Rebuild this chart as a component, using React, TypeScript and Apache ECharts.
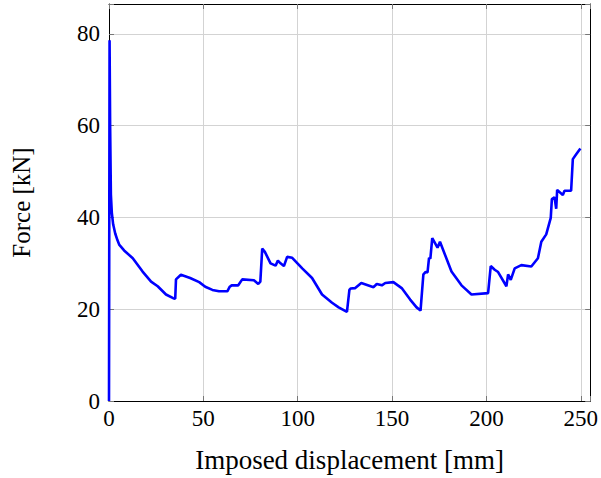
import React, { useEffect, useRef } from "react";
import * as echarts from "echarts";

const displacement: number[] = [
  0, 0.3, 0.6, 1.0, 1.5, 2.2, 3.3, 4.5, 5.5, 8, 12.6, 17.8, 22.3, 25.8, 30.2, 34.0, 35.1, 35.5, 38.1, 43,
  47.8, 51, 54.8, 58.3, 62.7, 64, 65, 68.5, 70.6, 76.8, 79.1, 80.2, 81.2, 82.6, 85.6, 88.3, 89.5, 90.9,
  92.7, 94.4, 97.1, 102.4, 107.6, 112.9, 118.2, 121.7, 126.1, 127.4, 128.0, 130.5, 133.7, 140.2, 141.9,
  144.6, 146.4, 150.7, 155.1, 159.6, 163, 165.1, 166.6, 167.8, 168.8, 169.6, 170.3, 171.3, 174.1, 175.4,
  181.5, 186.8, 192.1, 200.9, 202.3, 204.4, 206.2, 210.6, 211.5, 212.9, 215, 218.5, 223.8, 227.3, 229.1,
  231.7, 234.1, 234.7, 236.1, 237, 237.5, 240.5, 241.4, 244.9, 245.8, 247.5, 249.8,
];

const force: number[] = [
  0, 78.6, 60, 45, 41, 38.5, 36.5, 35, 34, 32.8, 31.1, 28.2, 26, 25, 23.2, 22.4, 22.3, 26.5, 27.5, 26.8,
  25.9, 24.9, 24.2, 23.9, 23.9, 24.9, 25.2, 25.2, 26.5, 26.3, 25.5, 26, 33.2, 32.5, 30, 29.5, 30.6, 30,
  29.4, 31.4, 31.2, 28.9, 26.8, 23.2, 21.4, 20.4, 19.4, 24.2, 24.5, 24.6, 25.7, 24.8, 25.5,
  25.2, 25.7, 25.9, 24.6, 22.1, 20.4, 19.7, 27.6, 28.1, 28, 31.2, 31, 35.5, 33.4, 34.7,
  28.2, 25.2, 23.2, 23.5, 29.4, 28.6, 28.1, 25, 27.6, 26.4, 28.9, 29.6, 29.3, 31.1, 34.7,
  36.3, 39.9, 44, 44.4, 41.9, 46, 44.9, 45.8, 45.8, 52.7, 53.7, 55,
];

const xTicks: number[] = [0, 50, 100, 150, 200, 250];
const yTicks: number[] = [0, 20, 40, 60, 80];

const FONT = "Liberation Serif";

export default function App() {
  const ref = useRef<HTMLDivElement>(null);
  useEffect(() => {
    if (!ref.current) return;
    const chart = echarts.init(ref.current, undefined, { renderer: "svg" });
    const data = displacement.map((x, i) => [x, force[i]]);
    const tickStyle = { show: true, inside: true, length: 5, lineStyle: { color: "#777", width: 1 } };
    const axisLine = { show: true, onZero: false, lineStyle: { color: "#000", width: 1 } };
    chart.setOption({
      animation: false,
      grid: { left: 109, right: 9, top: 4, bottom: 74, containLabel: false },
      xAxis: [
        {
          type: "value",
          min: 0,
          max: 255,
          interval: 50,
          name: "Imposed displacement [mm]",
          nameLocation: "middle",
          nameGap: 45,
          nameTextStyle: { fontFamily: FONT, fontSize: 27, color: "#000" },
          axisLine,
          axisTick: tickStyle,
          axisLabel: {
            fontFamily: FONT,
            fontSize: 23,
            color: "#000",
            margin: 6,
            formatter: (v: number) => (xTicks.includes(v) ? String(v) : ""),
          },
          splitLine: { show: true, lineStyle: { color: "#d3d3d3", width: 1 } },
        },
        {
          type: "value",
          position: "top",
          min: 0,
          max: 255,
          interval: 50,
          axisLine,
          axisTick: tickStyle,
          axisLabel: { show: false },
          splitLine: { show: false },
        },
      ],
      yAxis: [
        {
          type: "value",
          min: 0,
          max: 86.5,
          interval: 20,
          name: "Force [kN]",
          nameLocation: "middle",
          nameGap: 75,
          nameRotate: 90,
          nameTextStyle: { fontFamily: FONT, fontSize: 25, color: "#000" },
          axisLine,
          axisTick: tickStyle,
          axisLabel: {
            fontFamily: FONT,
            fontSize: 23,
            color: "#000",
            margin: 9,
            formatter: (v: number) => (yTicks.includes(v) ? String(v) : ""),
          },
          splitLine: { show: true, lineStyle: { color: "#d3d3d3", width: 1 } },
        },
        {
          type: "value",
          position: "right",
          min: 0,
          max: 86.5,
          interval: 20,
          axisLine,
          axisTick: tickStyle,
          axisLabel: { show: false },
          splitLine: { show: false },
        },
      ],
      series: [
        {
          type: "line",
          data,
          showSymbol: false,
          symbol: "none",
          lineStyle: { color: "#0000ff", width: 2.6 },
          xAxisIndex: 0,
          yAxisIndex: 0,
        },
      ],
    });
    return () => chart.dispose();
  }, []);
  return <div ref={ref} style={{ width: 601, height: 478, position: "absolute", left: 0, top: 0 }} />;
}
